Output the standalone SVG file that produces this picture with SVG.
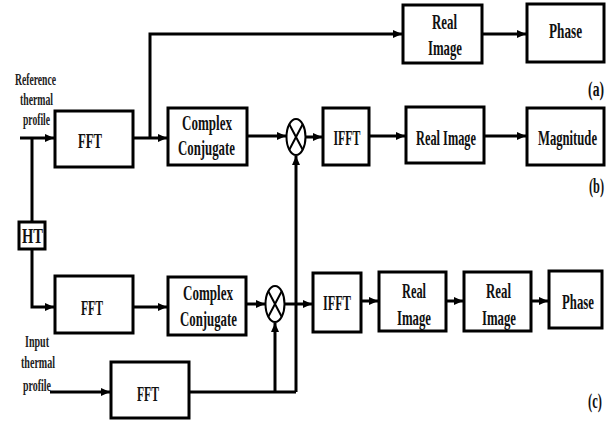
<svg xmlns="http://www.w3.org/2000/svg" width="610" height="421" viewBox="0 0 610 421">
<style>
.b{fill:#fff;stroke:#000;stroke-width:3}
.c{fill:none;stroke:#000;stroke-width:3}
.x{fill:none;stroke:#000;stroke-width:2}
.t{font-family:"Liberation Serif","Times New Roman",serif;font-weight:bold;font-size:22px;fill:#111;text-anchor:middle}
.s{font-family:"Liberation Serif","Times New Roman",serif;font-weight:bold;font-size:17px;fill:#222;text-anchor:middle}
.e{text-anchor:end}
</style>
<defs>
<marker id="ah" markerUnits="userSpaceOnUse" markerWidth="10" markerHeight="10" refX="9" refY="5" orient="auto">
<path d="M0,1 L9,5 L0,9 Z" fill="#000"/>
</marker>
</defs>
<rect width="610" height="421" fill="#fff"/>
<g id="connectors">
<path class="c" d="M20,138 H54" marker-end="url(#ah)"/>
<path class="c" d="M133,138 H167" marker-end="url(#ah)"/>
<path class="c" d="M150,138 V34 H402" marker-end="url(#ah)"/>
<path class="c" d="M482,34 H526" marker-end="url(#ah)"/>
<path class="c" d="M247,136 H286" marker-end="url(#ah)"/>
<path class="c" d="M305,137 H322" marker-end="url(#ah)"/>
<path class="c" d="M369,136 H405" marker-end="url(#ah)"/>
<path class="c" d="M484,136 H526" marker-end="url(#ah)"/>
<path class="c" d="M32,138 V222"/>
<path class="c" d="M32,249 V307 H54" marker-end="url(#ah)"/>
<path class="c" d="M133,307 H167" marker-end="url(#ah)"/>
<path class="c" d="M246,304 H265" marker-end="url(#ah)"/>
<path class="c" d="M285,304 H312" marker-end="url(#ah)"/>
<path class="c" d="M361,301 H378" marker-end="url(#ah)"/>
<path class="c" d="M446,301 H463" marker-end="url(#ah)"/>
<path class="c" d="M531,301 H548" marker-end="url(#ah)"/>
<path class="c" d="M50,392 H110" marker-end="url(#ah)"/>
<path class="c" d="M189,392 H296"/>
<path class="c" d="M275,392 V323" marker-end="url(#ah)"/>
<path class="c" d="M296,392 V156" marker-end="url(#ah)"/>
</g>
<g id="mult-b">
<ellipse class="x" cx="296" cy="137" rx="9.5" ry="18"/>
<path class="x" d="M289.3,124.3 L302.7,149.7 M302.7,124.3 L289.3,149.7"/>
</g>
<g id="mult-c">
<ellipse class="x" cx="275" cy="304" rx="9.5" ry="18"/>
<path class="x" d="M268.3,291.3 L281.7,316.7 M281.7,291.3 L268.3,316.7"/>
</g>
<g id="ref-label">
<text class="s" x="35.5" y="85" textLength="41" lengthAdjust="spacingAndGlyphs">Reference</text>
<text class="s" x="36.5" y="105" textLength="33" lengthAdjust="spacingAndGlyphs">thermal</text>
<text class="s" x="36.5" y="125" textLength="27" lengthAdjust="spacingAndGlyphs">profile</text>
</g>
<g id="input-label">
<text class="s" x="37" y="347" textLength="24" lengthAdjust="spacingAndGlyphs">Input</text>
<text class="s" x="38" y="368" textLength="34" lengthAdjust="spacingAndGlyphs">thermal</text>
<text class="s" x="37" y="391" textLength="28" lengthAdjust="spacingAndGlyphs">profile</text>
</g>
<g id="real-image-a">
<rect class="b" x="403" y="5" width="79" height="58"/>
<text class="t" x="444.5" y="29" textLength="25" lengthAdjust="spacingAndGlyphs">Real</text>
<text class="t" x="445" y="55" textLength="34" lengthAdjust="spacingAndGlyphs">Image</text>
</g>
<g id="phase-a">
<rect class="b" x="527" y="4" width="77" height="58"/>
<text class="t" transform="translate(565.5,38) scale(0.6,1)">Phase</text>
</g>
<g id="fft-b">
<rect class="b" x="55" y="111" width="78" height="56"/>
<text class="t" x="90" y="148" font-size="24" textLength="24" lengthAdjust="spacingAndGlyphs">FFT</text>
</g>
<g id="cc-b">
<rect class="b" x="168" y="108" width="79" height="57"/>
<text class="t" x="207" y="130" textLength="50" lengthAdjust="spacingAndGlyphs">Complex</text>
<text class="t" x="206.5" y="155" textLength="57" lengthAdjust="spacingAndGlyphs">Conjugate</text>
</g>
<g id="ifft-b">
<rect class="b" x="323" y="108" width="46" height="57"/>
<text class="t" x="347" y="145" textLength="27" lengthAdjust="spacingAndGlyphs">IFFT</text>
</g>
<g id="real-image-b">
<rect class="b" x="406" y="107" width="78" height="56"/>
<text class="t" x="446" y="145" textLength="60" lengthAdjust="spacingAndGlyphs">Real Image</text>
</g>
<g id="magnitude">
<rect class="b" x="527" y="108" width="77" height="57"/>
<text class="t" transform="translate(567.5,145) scale(0.575,1)">Magnitude</text>
</g>
<g id="ht">
<rect class="b" x="19" y="222" width="26" height="27"/>
<text class="t" x="32.5" y="243" textLength="21" lengthAdjust="spacingAndGlyphs">HT</text>
</g>
<g id="fft-c">
<rect class="b" x="55" y="276" width="78" height="57"/>
<text class="t" x="92" y="315" font-size="24" textLength="22" lengthAdjust="spacingAndGlyphs">FFT</text>
</g>
<g id="cc-c">
<rect class="b" x="168" y="277" width="78" height="58"/>
<text class="t" x="208" y="300" textLength="50" lengthAdjust="spacingAndGlyphs">Complex</text>
<text class="t" x="208.5" y="326" textLength="57" lengthAdjust="spacingAndGlyphs">Conjugate</text>
</g>
<g id="fft-input">
<rect class="b" x="111" y="362" width="78" height="56"/>
<text class="t" x="148" y="401" font-size="24" textLength="22" lengthAdjust="spacingAndGlyphs">FFT</text>
</g>
<g id="ifft-c">
<rect class="b" x="313" y="273" width="48" height="59"/>
<text class="t" x="337" y="310" textLength="28" lengthAdjust="spacingAndGlyphs">IFFT</text>
</g>
<g id="real-image-c1">
<rect class="b" x="379" y="272" width="67" height="59"/>
<text class="t" x="414" y="298" textLength="24" lengthAdjust="spacingAndGlyphs">Real</text>
<text class="t" x="414" y="325" textLength="34" lengthAdjust="spacingAndGlyphs">Image</text>
</g>
<g id="real-image-c2">
<rect class="b" x="464" y="272" width="67" height="59"/>
<text class="t" x="498.5" y="298" textLength="25" lengthAdjust="spacingAndGlyphs">Real</text>
<text class="t" x="499" y="325" textLength="34" lengthAdjust="spacingAndGlyphs">Image</text>
</g>
<g id="phase-c">
<rect class="b" x="549" y="271" width="53" height="57"/>
<text class="t" transform="translate(578,309) scale(0.58,1)">Phase</text>
</g>
<g id="captions">
<text class="t e" transform="translate(604,96) scale(0.62,1)">(a)</text>
<text class="t e" transform="translate(604,193) scale(0.56,1)">(b)</text>
<text class="t e" transform="translate(602,408) scale(0.57,1)">(c)</text>
</g>
</svg>
